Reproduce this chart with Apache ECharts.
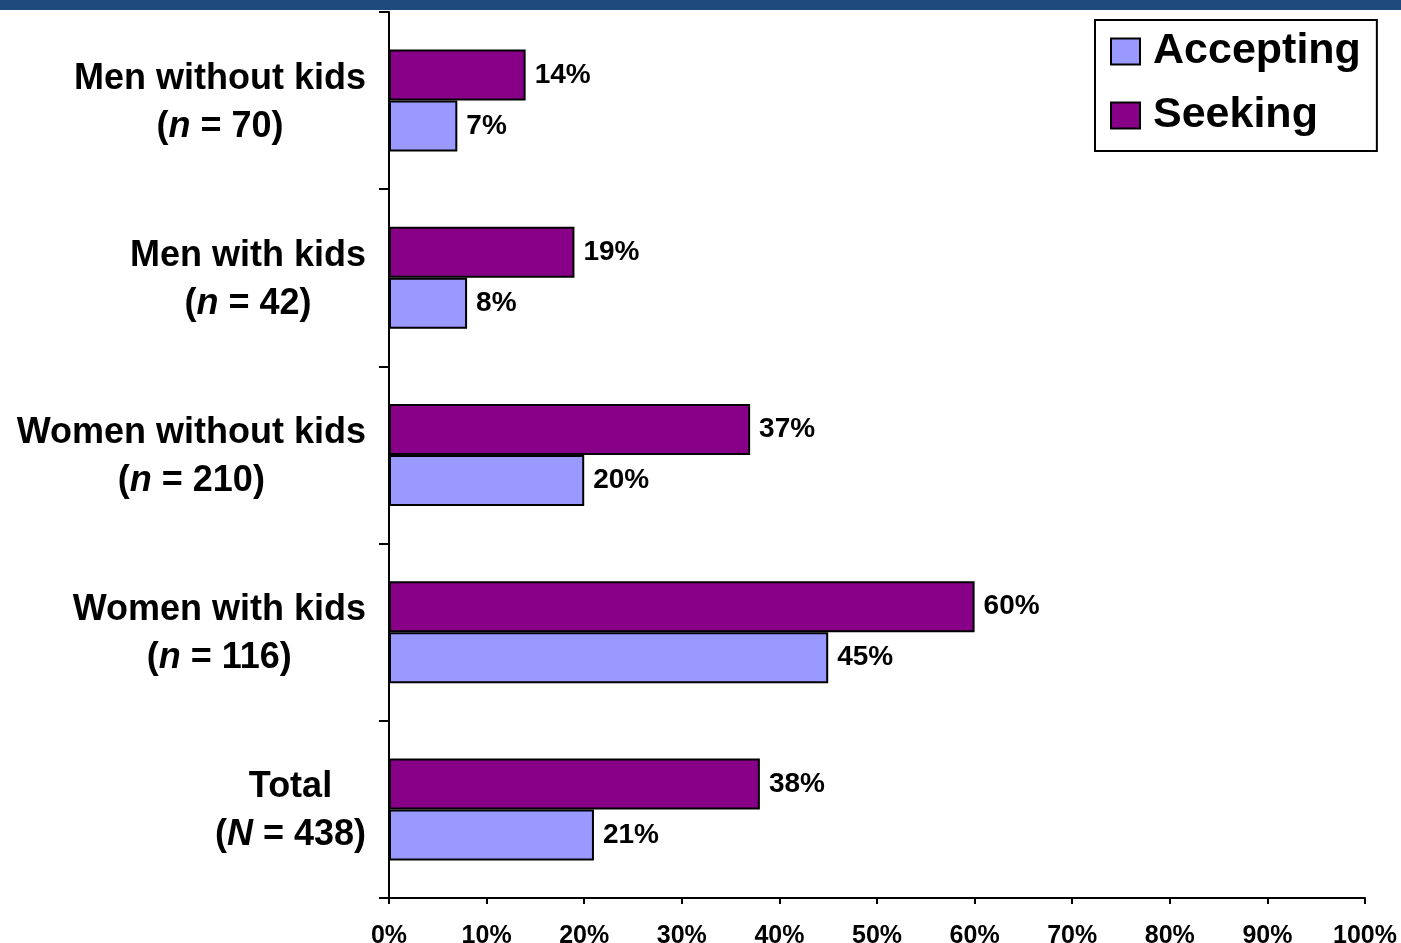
<!DOCTYPE html>
<html>
<head>
<meta charset="utf-8">
<script src="https://cdn.jsdelivr.net/npm/echarts@6/dist/echarts.min.js"></script>
<style>html,body{margin:0;padding:0;background:#fff}#c{width:1401px;height:943px}</style>
</head>
<body>
<div id="c"></div>
<script>
const groups = ['Men without kids', 'Men with kids', 'Women without kids', 'Women with kids', 'Total'];
const nSymbols = ['n', 'n', 'n', 'n', 'N'];
const nValues = [70, 42, 210, 116, 438];
const accepting = [7, 8, 20, 45, 21];
const seeking = [14, 19, 37, 60, 38];
const xTicks = [0, 10, 20, 30, 40, 50, 60, 70, 80, 90, 100];

const FONT = '"Liberation Sans", Arial, sans-serif';
const chart = echarts.init(document.getElementById('c'));
const labelStyle = {show: true, position: 'right', distance: 9, formatter: '{c}%', color: '#000', fontWeight: 'bold', fontSize: 28, fontFamily: FONT};
chart.setOption({
  animation: false,
  graphic: [{type: 'rect', left: 0, top: 0, shape: {width: 1401, height: 10}, style: {fill: '#1f4a7e'}}],
  grid: {left: 389, right: 36, top: 12, bottom: 45, containLabel: false, outerBoundsMode: 'none'},
  legend: {
    data: ['Accepting', 'Seeking'], orient: 'vertical', left: 1095, top: 20,
    padding: [10, 16, 14, 15], itemGap: 21, itemWidth: 29, itemHeight: 26,
    borderColor: '#000', borderWidth: 2, icon: 'rect',
    textStyle: {fontSize: 43, fontWeight: 'bold', color: '#000', fontFamily: FONT, lineHeight: 43, padding: [0, 0, 0, 8]}
  },
  xAxis: {
    type: 'value', min: 0, max: 100, interval: 10,
    splitLine: {show: false},
    axisLine: {show: true, lineStyle: {color: '#000', width: 2}},
    axisTick: {show: true, length: 6, lineStyle: {color: '#000', width: 2}},
    axisLabel: {formatter: v => xTicks.includes(v) ? v + '%' : '', color: '#000', fontWeight: 'bold', fontSize: 25, fontFamily: FONT, margin: 26}
  },
  yAxis: {
    type: 'category', inverse: true, data: groups,
    axisLine: {show: true, lineStyle: {color: '#000', width: 2}},
    axisTick: {show: true, length: 10, lineStyle: {color: '#000', width: 2}},
    axisLabel: {
      margin: 23, align: 'right', padding: [4, 0, 0, 0],
      formatter: (v, i) => '{b|' + v + '}\n{b|(}{i|' + nSymbols[i] + '}{b| = ' + nValues[i] + ')}',
      rich: {
        b: {fontSize: 36, fontWeight: 'bold', color: '#000', fontFamily: FONT, lineHeight: 48, align: 'center'},
        i: {fontSize: 36, fontWeight: 'bold', fontStyle: 'italic', color: '#000', fontFamily: FONT, lineHeight: 48, align: 'center'}
      }
    }
  },
  series: [
    {name: 'Seeking', type: 'bar', data: seeking, barWidth: 51, barGap: '0%',
     itemStyle: {color: '#880088', borderColor: '#000', borderWidth: 2}, label: labelStyle},
    {name: 'Accepting', type: 'bar', data: accepting, barWidth: 51, barGap: '0%',
     itemStyle: {color: '#9999ff', borderColor: '#000', borderWidth: 2}, label: labelStyle}
  ]
});
</script>
</body>
</html>
